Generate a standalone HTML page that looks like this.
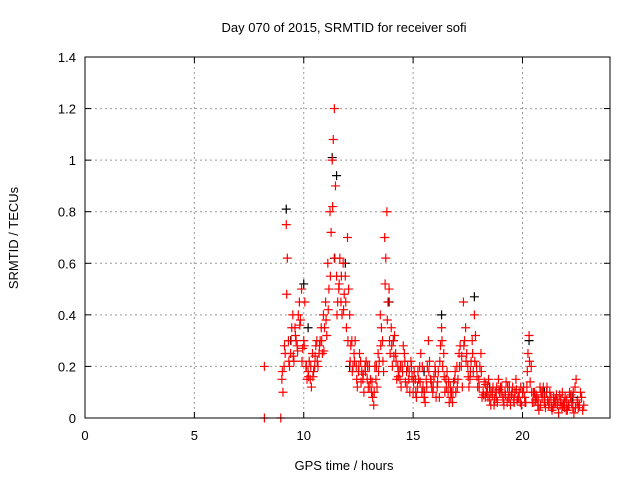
<!DOCTYPE html>
<html><head><meta charset="utf-8"><style>
html,body{margin:0;padding:0;background:#fff}
svg text{font-family:"Liberation Sans",sans-serif;font-size:13px;fill:#000}
</style></head><body>
<svg id="c" width="640" height="480">
<rect x="0" y="0" width="640" height="480" fill="#fff"/>
<text x="344" y="32" text-anchor="middle">Day 070 of 2015, SRMTID for receiver sofi</text>
<text x="344" y="470" text-anchor="middle">GPS time / hours</text>
<text transform="translate(18,238) rotate(-90)" text-anchor="middle">SRMTID / TECUs</text>
<g id="grid"></g>
<g id="ticks"></g>
<g id="marks"></g>
<rect x="85" y="57" width="525" height="361" fill="none" stroke="#000" stroke-width="1"/>
</svg>
<script>
const xTicks=[0,5,10,15,20];
const yTicks=[0,0.2,0.4,0.6,0.8,1,1.2,1.4];
const yTickLabels=["0","0.2","0.4","0.6","0.8","1","1.2","1.4"];
const redT=[8.2,8.2,8.95,9.0,9.1,9.2,9.3,9.4,9.5,9.6,9.7,9.8,9.9,10.0,10.1,10.2,10.3,10.4,10.5,10.6,10.7,10.8,10.9,11.0,11.1,11.2,11.3,11.4,11.5,11.6,11.7,11.8,11.9,12.0,12.1,12.2,12.3,12.4,12.5,12.6,12.7,12.8,12.9,13.0,13.1,13.2,13.3,13.4,13.5,13.6,13.7,13.8,13.9,14.0,14.1,14.2,14.3,14.4,14.5,14.6,14.7,14.8,14.9,15.0,15.1,15.2,15.3,15.4,15.5,15.6,15.7,15.8,15.9,16.0,16.1,16.2,16.3,16.4,16.5,16.6,16.7,16.8,16.9,17.0,17.1,17.2,17.3,17.4,17.5,17.6,17.7,17.8,17.9,18.0,18.1,18.2,18.3,18.4,18.5,18.6,18.7,18.8,18.9,19.0,19.1,19.2,19.3,19.4,19.5,19.6,19.7,19.8,19.9,20.0,20.1,20.2,20.3,20.4,20.5,20.6,20.7,20.8,20.9,21.0,21.1,21.2,21.3,21.4,21.5,21.6,21.7,21.8,21.9,22.0,22.1,22.2,22.3,22.4,22.5,22.6,22.7,22.8];
const redV=[0.2,0.0,0.0,0.15,0.2,0.75,0.3,0.25,0.4,0.35,0.28,0.45,0.5,0.3,0.2,0.18,0.15,0.25,0.2,0.3,0.25,0.35,0.4,0.45,0.6,0.8,1.0,1.2,0.55,0.5,0.45,0.6,0.55,0.7,0.4,0.3,0.25,0.2,0.18,0.22,0.15,0.2,0.15,0.2,0.1,0.05,0.15,0.25,0.4,0.3,0.7,0.8,0.5,0.35,0.3,0.25,0.2,0.15,0.2,0.25,0.18,0.15,0.22,0.1,0.15,0.12,0.2,0.1,0.08,0.15,0.3,0.15,0.1,0.2,0.12,0.08,0.35,0.25,0.15,0.1,0.12,0.06,0.15,0.2,0.25,0.2,0.45,0.35,0.2,0.15,0.3,0.4,0.2,0.15,0.25,0.1,0.08,0.12,0.07,0.1,0.05,0.08,0.15,0.12,0.08,0.1,0.06,0.12,0.09,0.07,0.15,0.08,0.06,0.1,0.08,0.12,0.32,0.2,0.1,0.07,0.05,0.12,0.08,0.06,0.1,0.05,0.08,0.04,0.07,0.05,0.09,0.04,0.06,0.03,0.05,0.08,0.04,0.12,0.06,0.05,0.08,0.05];
const red2T=[9.05,9.15,9.25,9.35,9.45,9.55,9.65,9.75,9.85,9.95,10.05,10.15,10.25,10.35,10.45,10.55,10.65,10.75,10.85,10.95,11.05,11.15,11.25,11.35,11.45,11.55,11.65,11.75,11.85,11.95,12.05,12.15,12.25,12.35,12.45,12.55,12.65,12.75,12.85,12.95,13.05,13.15,13.25,13.35,13.45,13.55,13.65,13.75,13.85,13.95,14.05,14.15,14.25,14.35,14.45,14.55,14.65,14.75,14.85,14.95,15.05,15.15,15.25,15.35,15.45,15.55,15.65,15.75,15.85,15.95,16.05,16.15,16.25,16.35,16.45,16.55,16.65,16.75,16.85,16.95,17.05,17.15,17.25,17.35,17.45,17.55,17.65,17.75,17.85,17.95,18.05,18.15,18.25,18.35,18.45,18.55,18.65,18.75,18.85,18.95,19.05,19.15,19.25,19.35,19.45,19.55,19.65,19.75,19.85,19.95,20.05,20.15,20.25,20.35,20.45,20.55,20.65,20.75,20.85,20.95,21.05,21.15,21.25,21.35,21.45,21.55,21.65,21.75,21.85,21.95,22.05,22.15,22.25,22.35,22.45,22.55,22.65,22.75];
const red2V=[0.1,0.25,0.62,0.2,0.35,0.22,0.3,0.4,0.38,0.27,0.45,0.15,0.22,0.12,0.18,0.28,0.2,0.3,0.25,0.35,0.32,0.5,0.72,1.08,0.9,0.45,0.62,0.4,0.48,0.35,0.5,0.28,0.2,0.3,0.12,0.25,0.18,0.1,0.22,0.12,0.15,0.08,0.2,0.12,0.22,0.35,0.18,0.62,0.45,0.25,0.2,0.32,0.15,0.18,0.12,0.28,0.14,0.2,0.1,0.16,0.18,0.08,0.15,0.25,0.12,0.06,0.2,0.22,0.12,0.16,0.08,0.18,0.28,0.2,0.1,0.18,0.06,0.1,0.14,0.1,0.15,0.28,0.12,0.3,0.25,0.12,0.22,0.18,0.32,0.12,0.2,0.08,0.14,0.1,0.15,0.05,0.12,0.1,0.06,0.1,0.12,0.05,0.14,0.08,0.05,0.12,0.1,0.07,0.1,0.05,0.12,0.06,0.25,0.14,0.06,0.1,0.08,0.03,0.1,0.12,0.04,0.07,0.1,0.03,0.06,0.09,0.02,0.07,0.05,0.08,0.03,0.1,0.06,0.02,0.15,0.04,0.1,0.03];
const red3T=[9.02,9.12,9.22,9.32,9.42,9.52,9.62,9.72,9.82,9.92,10.02,10.12,10.22,10.32,10.42,10.52,10.62,10.72,10.82,10.92,11.02,11.12,11.22,11.32,11.42,11.52,11.62,11.72,11.82,11.92,12.02,12.12,12.22,12.32,12.42,12.52,12.62,12.72,12.82,12.92,13.02,13.12,13.22,13.32,13.42,13.52,13.62,13.72,13.82,13.92,14.02,14.12,14.22,14.32,14.42,14.52,14.62,14.72,14.82,14.92,15.02,15.12,15.22,15.32,15.42,15.52,15.62,15.72,15.82,15.92,16.02,16.12,16.22,16.32,16.42,16.52,16.62,16.72,16.82,16.92,17.02,17.12,17.22,17.32,17.42,17.52,17.62,17.72,17.82,17.92,18.02,18.12,18.22,18.32,18.42,18.52,18.62,18.72,18.82,18.92,19.02,19.12,19.22,19.32,19.42,19.52,19.62,19.72,19.82,19.92,20.02,20.12,20.22,20.32,20.42,20.52,20.62,20.72,20.82,20.92,21.02,21.12,21.22,21.32,21.42,21.52,21.62,21.72,21.82,21.92,22.02,22.12,22.22,22.32,22.42,22.52,22.62,22.72];
const red3V=[0.18,0.28,0.48,0.22,0.3,0.24,0.32,0.26,0.36,0.22,0.28,0.2,0.16,0.2,0.16,0.24,0.22,0.28,0.3,0.26,0.38,0.42,0.55,0.82,0.62,0.4,0.52,0.55,0.42,0.45,0.3,0.22,0.18,0.22,0.15,0.2,0.14,0.17,0.18,0.2,0.12,0.14,0.1,0.2,0.18,0.28,0.22,0.52,0.38,0.3,0.28,0.24,0.22,0.16,0.2,0.18,0.22,0.12,0.18,0.2,0.14,0.1,0.18,0.14,0.2,0.1,0.12,0.18,0.14,0.12,0.18,0.14,0.22,0.3,0.16,0.12,0.14,0.08,0.1,0.18,0.12,0.2,0.24,0.28,0.22,0.16,0.18,0.25,0.22,0.16,0.12,0.18,0.09,0.13,0.08,0.1,0.09,0.07,0.12,0.11,0.1,0.07,0.09,0.12,0.08,0.1,0.06,0.11,0.08,0.12,0.1,0.06,0.18,0.22,0.1,0.06,0.09,0.07,0.05,0.1,0.08,0.12,0.06,0.04,0.08,0.06,0.07,0.05,0.1,0.04,0.07,0.05,0.09,0.1,0.04,0.07];
const blackT=[9.2,9.4,10.0,10.2,11.3,11.4,11.5,11.9,12.1,13.9,14.1,15.5,16.3,17.8,18.5,20.3,21.0,22.3];
const blackV=[0.81,0.3,0.52,0.35,1.01,0.62,0.94,0.6,0.2,0.45,0.3,0.18,0.4,0.47,0.12,0.3,0.1,0.08];
const NS='http://www.w3.org/2000/svg';
const X0=85,X1=610,Y0=418,Y1=57,XMAX=24,YMAX=1.4;
function xs(v){return X0+v/XMAX*(X1-X0);}
function ys(v){return Y0-v/YMAX*(Y0-Y1);}
const grid=document.getElementById('grid'),ticks=document.getElementById('ticks'),marks=document.getElementById('marks');
function mk(tag,at,parent){const e=document.createElementNS(NS,tag);for(const k in at)e.setAttribute(k,at[k]);parent.appendChild(e);return e;}
xTicks.forEach(t=>{
  const x=xs(t);
  if(t>0){const g=mk('line',{x1:x,x2:x,y1:Y1,y2:Y0,stroke:'#999','stroke-dasharray':'2,3'},grid);
  
  }
  mk('line',{x1:x,x2:x,y1:Y0,y2:Y0-6,stroke:'#000'},ticks);
  mk('line',{x1:x,x2:x,y1:Y1,y2:Y1+6,stroke:'#000'},ticks);
  const tx=mk('text',{x:x,y:Y0+22,'text-anchor':'middle'},ticks);tx.textContent=t;
  
  
});
yTicks.forEach((t,i)=>{
  const y=ys(t);
  if(t>0&&t<YMAX){const g=mk('line',{x1:X0,x2:X1,y1:y,y2:y,stroke:'#999','stroke-dasharray':'2,3'},grid);
  
  }
  mk('line',{x1:X0,x2:X0+6,y1:y,y2:y,stroke:'#000'},ticks);
  mk('line',{x1:X1,x2:X1-6,y1:y,y2:y,stroke:'#000'},ticks);
  const tx=mk('text',{x:X0-9,y:y+5,'text-anchor':'end'},ticks);tx.textContent=yTickLabels[i];
  
  
});
function plus(T,V,col,name){
  const g=mk('g',{},marks);
  
  
  let d='';
  T.forEach((t,i)=>{const x=xs(t),y=ys(V[i]);d+=`M${x-4.5} ${y}h9M${x} ${y-4.5}v9`;});
  mk('path',{d:d,stroke:col,'stroke-width':1.2,fill:'none'},g);
}
plus(blackT,blackV,'#000','black-series');
plus(redT,redV,'#ff0000','red-series');
plus(red2T,red2V,'#ff0000','red-series-2');
plus(red3T,red3V,'#ff0000','red-series-3');
</script>
</body></html>
